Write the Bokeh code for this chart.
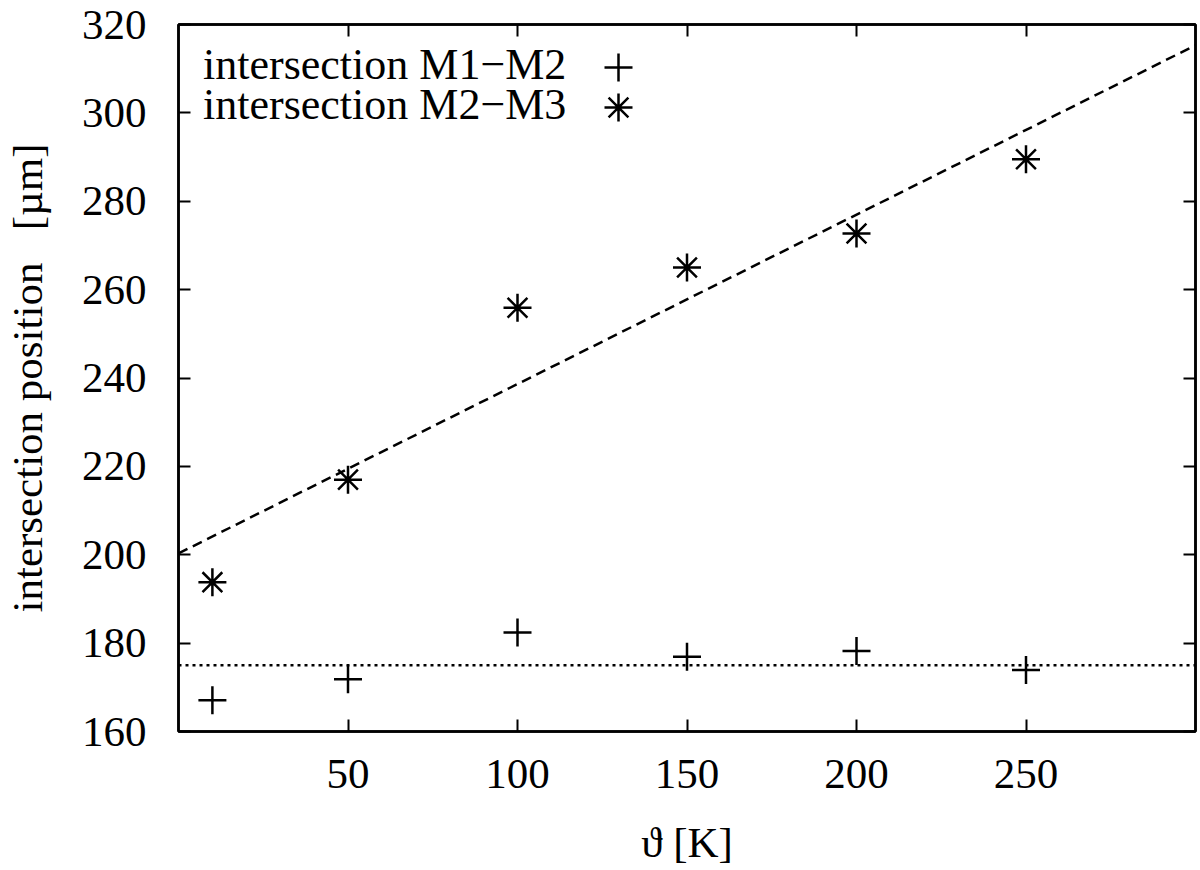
from bokeh.plotting import figure
from bokeh.models import (Range1d, LinearAxis, FixedTicker, Legend, LegendItem,
                          CustomJSTickFormatter, Span)
from bokeh.embed import file_html
from bokeh.resources import INLINE

# ---- data ----
temps = [10, 50, 100, 150, 200, 250]
m12 = [167.1, 171.8, 182.4, 176.9, 178.2, 173.9]
m23 = [193.8, 217.0, 255.9, 265.0, 272.7, 289.5]
fit_x = [0, 300]
fit_y = [200.3, 315.3]
m12_level = 175.0
x_ticks = [50, 100, 150, 200, 250]
y_ticks = [160, 180, 200, 220, 240, 260, 280, 300, 320]
label_m12 = "intersection M1\u2212M2"
label_m23 = "intersection M2\u2212M3"
x_title = "\u03d1 [K]"
y_title = "intersection position\u00a0\u00a0\u00a0[\u00b5m]"

FONT = "Liberation Serif"
FS = "43px"
FS_KEY = "44px"

p = figure(width=1198, height=868, x_range=Range1d(0, 300), y_range=Range1d(160, 320),
           output_backend="svg", toolbar_location=None,
           min_border_left=178, min_border_right=3, min_border_top=24, min_border_bottom=137)
p.xgrid.visible = False
p.ygrid.visible = False
p.outline_line_color = "black"
p.outline_line_width = 2.5
p.outline_line_alpha = 1.0

xa = p.xaxis[0]
ya = p.yaxis[0]
xa.ticker = FixedTicker(ticks=x_ticks)
ya.ticker = FixedTicker(ticks=y_ticks)
for ax in (xa, ya):
    ax.major_tick_in = 12
    ax.major_tick_out = 0
    ax.minor_tick_in = 0
    ax.minor_tick_out = 0
    ax.major_tick_line_width = 2
    ax.major_tick_line_color = "black"
    ax.axis_line_width = 2.5
    ax.axis_line_color = "black"
    ax.major_label_text_font = FONT
    ax.major_label_text_font_size = FS
    ax.major_label_text_color = "black"
    ax.axis_label_text_font = FONT
    ax.axis_label_text_font_size = FS
    ax.axis_label_text_font_style = "normal"
    ax.axis_label_text_color = "black"
xa.axis_label = x_title
ya.axis_label = y_title
xa.major_label_standoff = 28
ya.major_label_standoff = 32
xa.axis_label_standoff = 28
ya.axis_label_standoff = 28

# mirrored inner ticks on top and right
blank = CustomJSTickFormatter(code="return ''")
top = LinearAxis(ticker=FixedTicker(ticks=x_ticks), formatter=blank)
right = LinearAxis(ticker=FixedTicker(ticks=y_ticks), formatter=blank)
for ax in (top, right):
    ax.major_tick_in = 12
    ax.major_tick_out = 0
    ax.minor_tick_in = 0
    ax.minor_tick_out = 0
    ax.major_tick_line_width = 2
    ax.axis_line_width = 2.5
    ax.major_label_standoff = 0
    ax.major_label_text_font_size = "1px"
    ax.major_label_text_alpha = 0
p.add_layout(top, "above")
p.add_layout(right, "right")

# fit line and mean level
p.line(fit_x, fit_y, line_color="black", line_width=2.5, line_dash="10 6")
p.add_layout(Span(location=m12_level, dimension="width", line_color="black",
                  line_width=2.5, line_dash="3 4"))

r12 = p.scatter(temps, m12, marker="cross", size=28, line_color="black", line_width=2.5)
r23 = p.scatter(temps, m23, marker="asterisk", size=28, line_color="black", line_width=2.5)


# gnuplot-like key: text first, then the sample to its right
def key_text(label, renderer, loc):
    return Legend(items=[LegendItem(label=label, renderers=[renderer])], location=loc,
                  glyph_width=0, glyph_height=60, label_height=60, label_standoff=0,
                  padding=0, margin=0, border_line_alpha=0, background_fill_alpha=0,
                  label_text_font=FONT, label_text_font_size=FS_KEY, label_text_color="black")


def key_glyph(renderer, loc):
    return Legend(items=[LegendItem(label=" ", renderers=[renderer])], location=loc,
                  glyph_width=70, glyph_height=70, label_standoff=0, label_width=0,
                  padding=0, margin=0, border_line_alpha=0, background_fill_alpha=0,
                  label_text_font_size="1px")


p.add_layout(key_text(label_m12, r12, (25, 637)), "center")
p.add_layout(key_text(label_m23, r23, (25, 597)), "center")
p.add_layout(key_glyph(r12, (405, 629)), "center")
p.add_layout(key_glyph(r23, (405, 589)), "center")

open("out.html", "w").write(file_html(p, INLINE))
